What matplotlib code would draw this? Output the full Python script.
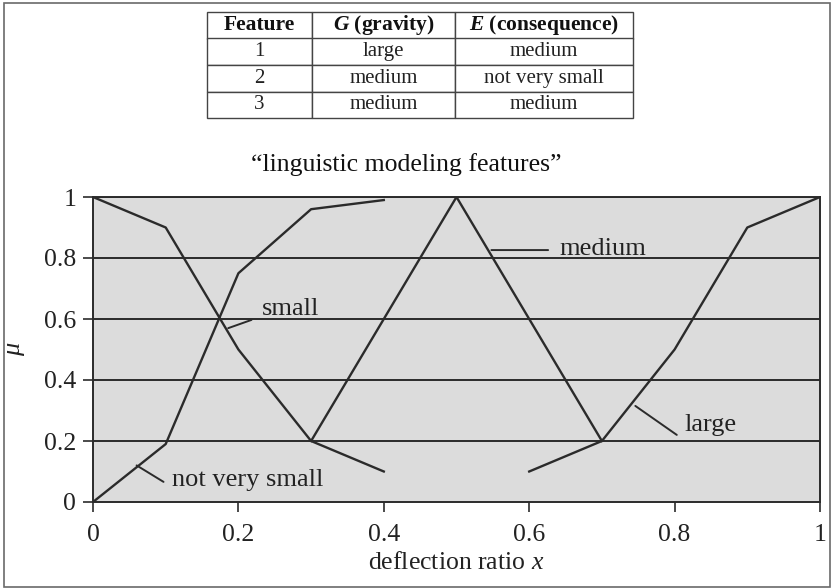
import matplotlib
matplotlib.use("Agg")
import matplotlib.pyplot as plt
from matplotlib.patches import Rectangle

plt.rcParams["font.family"] = ["Liberation Serif", "DejaVu Serif"]
plt.rcParams["mathtext.fontset"] = "custom"
plt.rcParams["mathtext.rm"] = "Liberation Serif"
plt.rcParams["mathtext.it"] = "Liberation Serif:italic"
plt.rcParams["mathtext.bf"] = "Liberation Serif:bold"
plt.rcParams["mathtext.bfit"] = "Liberation Serif:italic:bold"

# Membership functions over the deflection ratio
small_x = [0.0, 0.1, 0.2, 0.3, 0.4]
small_mu = [1.0, 0.9, 0.5, 0.2, 0.1]

not_very_small_x = [0.0, 0.1, 0.2, 0.3, 0.4]
not_very_small_mu = [0.0, 0.19, 0.75, 0.96, 0.99]

medium_x = [0.3, 0.5, 0.7]
medium_mu = [0.2, 1.0, 0.2]

large_x = [0.6, 0.7, 0.8, 0.9, 1.0]
large_mu = [0.1, 0.2, 0.5, 0.9, 1.0]

# Feature table
table_header = ["Feature", r"$\mathbfit{G}$ (gravity)", r"$\mathbfit{E}$ (consequence)"]
table_features = ["1", "2", "3"]
table_gravity = ["large", "medium", "medium"]
table_consequence = ["medium", "not very small", "medium"]

x_ticks = [0, 0.2, 0.4, 0.6, 0.8, 1]
y_ticks = [0, 0.2, 0.4, 0.6, 0.8, 1]
x_tick_labels = ["0", "0.2", "0.4", "0.6", "0.8", "1"]
y_tick_labels = ["0", "0.2", "0.4", "0.6", "0.8", "1"]

LINE = "#2b2b2b"
TEXT = "#222222"
W, H = 831, 588

fig = plt.figure(figsize=(W / 100, H / 100), dpi=100)
fig.patch.set_facecolor("white")

# outer frame
fig.patches.append(Rectangle((4 / W, 1 - 587 / H), 826 / W, 584 / H,
                             transform=fig.transFigure, fill=False,
                             edgecolor="#6a6a6a", linewidth=1.2))

ax = fig.add_axes([93 / W, 1 - 502 / H, 727 / W, 305 / H])
ax.set_facecolor("#dcdcdc")
ax.set_xlim(0, 1)
ax.set_ylim(0, 1)

for y in y_ticks[1:]:
    ax.axhline(y, color=LINE, linewidth=1.4, zorder=1)

lw = 1.7
ax.plot(small_x, small_mu, color=LINE, linewidth=lw, zorder=3)
ax.plot(not_very_small_x, not_very_small_mu, color=LINE, linewidth=lw, zorder=3)
ax.plot(medium_x, medium_mu, color=LINE, linewidth=lw, zorder=3)
ax.plot(large_x, large_mu, color=LINE, linewidth=lw, zorder=3)

# curve labels with leader lines
labels = [
    ("medium", (0.548, 0.826), (0.626, 0.826), (0.642, 0.81)),
    ("small", (0.186, 0.57), (0.218, 0.597), (0.232, 0.613)),
    ("not very small", (0.06, 0.12), (0.097, 0.066), (0.109, 0.052)),
    ("large", (0.746, 0.315), (0.803, 0.22), (0.814, 0.234)),
]
for name, p0, p1, tpos in labels:
    ax.annotate("", xy=p0, xytext=p1,
                arrowprops=dict(arrowstyle="-", color=LINE, lw=1.4,
                                shrinkA=0, shrinkB=0), zorder=4)
    ax.text(tpos[0], tpos[1], name, fontsize=19, color=TEXT,
            ha="left", va="baseline", zorder=5)

for side in ["left", "right", "bottom", "top"]:
    ax.spines[side].set_color(LINE)
    ax.spines[side].set_linewidth(1.4)

ax.set_xticks(x_ticks)
ax.set_xticklabels(x_tick_labels)
ax.set_yticks(y_ticks)
ax.set_yticklabels(y_tick_labels)
ax.tick_params(axis="both", direction="out", length=7, width=1.2,
               color=LINE, labelsize=18.5, labelcolor=TEXT)
ax.tick_params(axis="x", pad=9)
ax.tick_params(axis="y", pad=5)

ax.set_xlabel("deflection ratio $x$", fontsize=18.5, color=TEXT, labelpad=4)
ax.set_ylabel("μ", fontsize=19, fontstyle="italic", color=TEXT, labelpad=14)

fig.text(406 / W, 1 - 171 / H, "\u201clinguistic modeling features\u201d",
         fontsize=18.5, ha="center", va="baseline", color="#111111")

# feature table
tax = fig.add_axes([207 / W, 1 - 118 / H, 426 / W, 106 / H])
tax.axis("off")
rows = [[f, g, e] for f, g, e in zip(table_features, table_gravity, table_consequence)]
tbl = tax.table(cellText=rows, colLabels=table_header, cellLoc="center",
                colWidths=[105 / 426, 143 / 426, 178 / 426],
                bbox=[0, 0, 1, 1])
tbl.auto_set_font_size(False)
for (r, c), cell in tbl.get_celld().items():
    cell.set_edgecolor("#444444")
    cell.set_linewidth(1.0)
    cell.set_facecolor("white")
    txt = cell.get_text()
    txt.set_fontsize(15)
    txt.set_color(TEXT)
    if r == 0:
        txt.set_fontsize(15.5)
        txt.set_fontweight("bold")
        txt.set_color("#111111")

fig.savefig("out.png", dpi=100, facecolor="white")
